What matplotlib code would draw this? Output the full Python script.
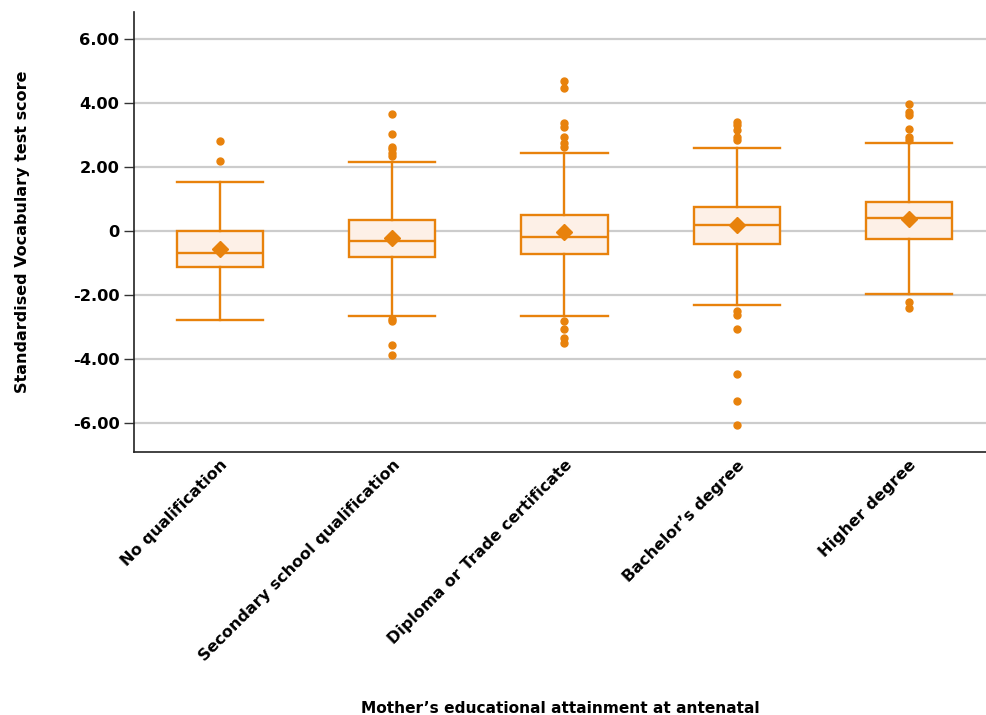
import matplotlib
matplotlib.use("Agg")
import matplotlib.pyplot as plt

# five-number summaries of vocabulary scores by mother's education
categories = ["No qualification", "Secondary school qualification",
              "Diploma or Trade certificate", "Bachelor\u2019s degree", "Higher degree"]
q1 = [-1.13, -0.81, -0.72, -0.42, -0.26]
q3 = [0.01, 0.33, 0.51, 0.76, 0.91]
medians = [-0.68, -0.31, -0.18, 0.20, 0.42]
means = [-0.57, -0.23, -0.04, 0.19, 0.37]
whisk_lo = [-2.79, -2.65, -2.65, -2.33, -1.97]
whisk_hi = [1.53, 2.15, 2.45, 2.59, 2.75]
outliers = [
    [2.80, 2.19],
    [3.66, 3.02, 2.62, 2.55, 2.45, 2.35, -2.76, -2.80, -3.58, -3.89],
    [4.70, 4.47, 3.36, 3.26, 2.95, 2.74, 2.61, -2.81, -3.07, -3.35, -3.51],
    [3.41, 3.31, 3.16, 2.93, 2.84, -2.49, -2.62, -3.07, -4.46, -5.33, -6.07],
    [3.98, 3.73, 3.63, 3.18, 2.95, 2.84, -2.23, -2.42],
]
yticks = [-6, -4, -2, 0, 2, 4, 6]
ytick_labels = ["-6.00", "-4.00", "-2.00", "0", "2.00", "4.00", "6.00"]

orange = "#E8820C"
fill = "#FDF0E7"

stats = []
for i in range(len(categories)):
    stats.append({"med": medians[i], "q1": q1[i], "q3": q3[i],
                  "whislo": whisk_lo[i], "whishi": whisk_hi[i],
                  "mean": means[i], "fliers": outliers[i]})

plt.rcParams["font.family"] = ["DejaVu Sans"]
plt.rcParams["font.weight"] = "bold"

fig = plt.figure(figsize=(9.86, 7.15), dpi=100)
ax = fig.add_axes([0.1359, 0.368, 0.8641, 0.615])

ax.bxp(stats, positions=range(len(categories)), widths=0.5,
       showmeans=True, patch_artist=True,
       boxprops=dict(facecolor=fill, edgecolor=orange, linewidth=1.7),
       medianprops=dict(color=orange, linewidth=1.7),
       whiskerprops=dict(color=orange, linewidth=1.7),
       capprops=dict(color=orange, linewidth=1.7),
       capwidths=0.5,
       meanprops=dict(marker="D", markerfacecolor=orange, markeredgecolor=orange,
                      markersize=8.5),
       flierprops=dict(marker="o", markerfacecolor=orange, markeredgecolor=orange,
                       markersize=5))

ax.set_xlim(-0.5, 4.448)
ax.set_ylim(-6.906, 6.84)
ax.set_yticks(yticks)
ax.set_yticklabels(ytick_labels, fontsize=11.7, fontweight="bold")
ax.yaxis.grid(True, color="#CCCCCC", linewidth=1.6)
ax.set_axisbelow(True)

ax.set_xticks(range(len(categories)))
ax.set_xticklabels(categories, rotation=45, ha="right", rotation_mode="anchor",
                   fontsize=11.5, fontweight="bold")
ax.tick_params(axis="x", length=0, pad=4)
ax.tick_params(axis="y", length=7.5, width=1, color="#333333", pad=3)

for side in ["top", "right"]:
    ax.spines[side].set_visible(False)
for side in ["left", "bottom"]:
    ax.spines[side].set_color("#222222")
    ax.spines[side].set_linewidth(1.2)

ax.set_ylabel("Standardised Vocabulary test score", fontsize=11.5, fontweight="bold",
              labelpad=31)
fig.text(0.568, -0.002, "Mother\u2019s educational attainment at antenatal",
         ha="center", va="bottom", fontsize=11.1, fontweight="bold")

fig.savefig("out.png", dpi=100)
plt.close(fig)
